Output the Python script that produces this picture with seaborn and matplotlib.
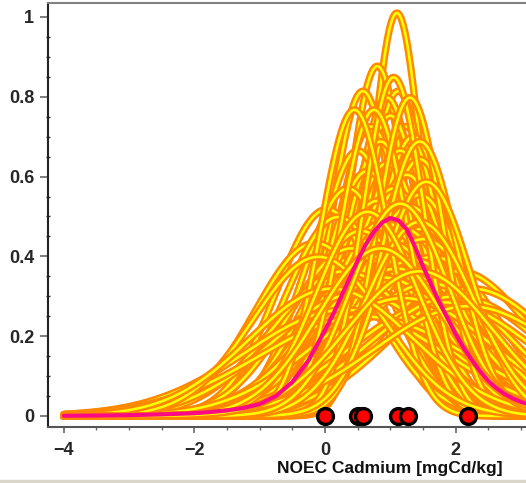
import numpy as np
import pandas as pd
import matplotlib
matplotlib.use("Agg")
import matplotlib.pyplot as plt
import matplotlib.patheffects as pe
from matplotlib.ticker import MultipleLocator, FuncFormatter
import seaborn as sns

# ---- data ----
# fitted normal densities (location, scale) of log10 NOEC, one per uncertainty curve
curve_mu = [1.10, 0.80, 0.58, 1.12, 1.23, 0.95, 1.00, 0.70, 1.35, 0.85,
            1.15, 0.50, 1.45, 0.95, 0.65, 1.25, 0.03, -0.15, 0.35, 1.05,
            1.45, 0.80, 1.30, 0.20, 1.50, 0.90, 1.20, 0.55, 1.50, 1.00,
            0.40, 1.65, 0.75, 1.35, 1.10, 0.30, 2.05, 0.90, 1.60, 2.25,
            0.50, 1.80, 0.30, 1.20, 2.00, 0.60, 1.05, 0.75, 1.30, 1.45,
            1.55, 0.45, -0.10, 0.10, 2.20, 1.45, 0.65, 1.15, 0.85, 1.45]
curve_sigma = [0.395, 0.455, 0.49, 0.49, 0.55, 0.50, 0.53, 0.55, 0.57, 0.58,
               0.60, 0.60, 0.62, 0.63, 0.65, 0.66, 0.77, 0.92, 0.70, 0.70,
               0.72, 0.74, 0.76, 0.80, 0.85, 0.82, 0.85, 0.86, 0.90, 0.92,
               0.95, 1.00, 1.00, 1.02, 1.08, 1.10, 1.10, 1.15, 1.20, 1.25,
               1.30, 1.40, 1.50, 1.35, 1.33, 1.60, 0.47, 0.52, 0.50, 0.58,
               0.68, 0.52, 1.00, 1.25, 1.45, 0.82, 0.78, 0.75, 0.95, 1.10]

# mean (pooled) density curve
mean_x = [-4.0, -3.5, -3.0, -2.5, -2.0, -1.75, -1.5, -1.25, -1.0, -0.75,
          -0.5, -0.25, 0.0, 0.125, 0.25, 0.375, 0.5, 0.625, 0.75, 0.875,
          1.0, 1.125, 1.25, 1.375, 1.5, 1.625, 1.75, 1.875, 2.0, 2.125,
          2.25, 2.375, 2.5, 2.625, 2.75, 2.875, 3.0, 3.25, 3.5]
mean_y = [0.0005, 0.001, 0.002, 0.004, 0.007, 0.010, 0.014, 0.020, 0.030, 0.050,
          0.085, 0.140, 0.215, 0.255, 0.300, 0.345, 0.390, 0.430, 0.462, 0.485,
          0.496, 0.490, 0.468, 0.425, 0.375, 0.330, 0.285, 0.245, 0.205, 0.170,
          0.140, 0.112, 0.088, 0.070, 0.055, 0.044, 0.035, 0.022, 0.014]

# observed NOEC values
noec_x = [0.0, 0.51, 0.58, 1.12, 1.27, 2.19]
noec_y = [0, 0, 0, 0, 0, 0]

x_ticks = [-4, -2, 0, 2]
y_ticks = [0, 0.2, 0.4, 0.6, 0.8, 1.0]
x_label = "NOEC Cadmium [mgCd/kg]"

# ---- figure ----
sns.set_style("white")
plt.rcParams["font.family"] = ["Liberation Sans", "DejaVu Sans"]
plt.rcParams["font.weight"] = "bold"

fig = plt.figure(figsize=(5.26, 4.83), dpi=100)
ax = fig.add_axes([48 / 526, 56 / 483, (553.6 - 48) / 526, 424 / 483])

xs = np.linspace(-4, 3.6, 400)
rows = []
for i, (m, s) in enumerate(zip(curve_mu, curve_sigma)):
    dens = np.exp(-0.5 * ((xs - m) / s) ** 2) / (s * np.sqrt(2 * np.pi))
    rows.append(pd.DataFrame({"curve": i, "x": xs, "density": dens}))
df = pd.concat(rows, ignore_index=True)

orange = "#FF8800"
yellow = "#FFFF00"
for i in range(len(curve_mu)):
    sub = df[df["curve"] == i]
    sns.lineplot(data=sub, x="x", y="density", ax=ax, color=yellow, lw=1.8,
                 estimator=None, sort=False, legend=False,
                 solid_capstyle="round",
                 path_effects=[pe.Stroke(linewidth=5.3, foreground=orange),
                               pe.Normal()])

sns.lineplot(x=mean_x, y=mean_y, ax=ax, color="#FF0A84", lw=3.0,
             estimator=None, sort=False, legend=False, solid_capstyle="round",
             solid_joinstyle="round", zorder=4)

sns.scatterplot(x=noec_x, y=noec_y, ax=ax, s=130, color="#FF0000",
                edgecolor="black", linewidth=2.4, zorder=6, clip_on=False,
                legend=False)

ax.set_xlim(-4.242, 3.5)
ax.set_ylim(-0.0276, 1.035)
ax.set_xlabel("")
ax.set_ylabel("")

ax.set_xticks(x_ticks)
ax.set_yticks(y_ticks)
ax.xaxis.set_minor_locator(MultipleLocator(0.5))
ax.yaxis.set_minor_locator(MultipleLocator(0.05))
ax.yaxis.set_major_formatter(FuncFormatter(lambda v, p: "%g" % v))
ax.xaxis.set_major_formatter(FuncFormatter(lambda v, p: ("\u2212%g" % -v) if v < 0 else "%g" % v))

ax.tick_params(axis="x", which="major", direction="out", length=4, width=1.2,
               color="#666666", pad=7, labelsize=13)
ax.tick_params(axis="x", which="minor", direction="out", length=2, width=1,
               color="#666666")
ax.tick_params(axis="y", which="major", direction="out", length=6, width=1.2,
               color="#666666", pad=4, labelsize=13)
ax.tick_params(axis="y", which="minor", direction="inout", length=3, width=1,
               color="#333333")
ax.tick_params(bottom=True, left=True, which="both")
for lab in ax.get_xticklabels() + ax.get_yticklabels():
    lab.set_fontweight("bold")

ax.spines["right"].set_visible(False)
ax.spines["top"].set_color("#808080")
ax.spines["top"].set_linewidth(1.5)
ax.spines["left"].set_color("#222222")
ax.spines["left"].set_linewidth(1.5)
ax.spines["bottom"].set_color("#555555")
ax.spines["bottom"].set_linewidth(1.5)

fig.text(390 / 526, 1 - 469 / 483, x_label, ha="center", va="center",
         fontsize=12.5, fontweight="bold", color="#111111")

fig.patches.append(matplotlib.patches.Rectangle((0, 0), 1, 3 / 483,
                   transform=fig.transFigure, color="#DAD6CA", zorder=0))

fig.savefig("out.png", dpi=100)
